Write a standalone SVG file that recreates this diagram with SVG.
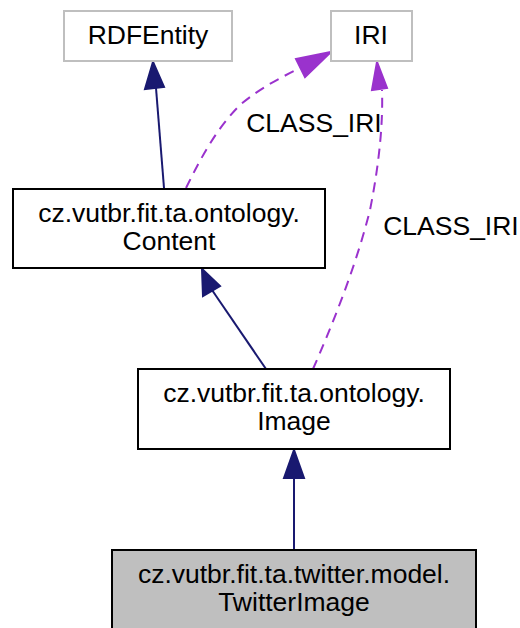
<svg xmlns="http://www.w3.org/2000/svg" width="520" height="628" viewBox="0 0 520 628">
<style>
text{font-family:"Liberation Sans",Arial,sans-serif;font-size:26.5px;fill:#000;text-anchor:middle}
.box{fill:#fff;stroke:#000;stroke-width:2}
.ext{fill:#fff;stroke:#bfbfbf;stroke-width:2}
.cur{fill:#bfbfbf;stroke:#000;stroke-width:2}
.inh{fill:none;stroke:#191970;stroke-width:2}
.use{fill:none;stroke:#9a32cd;stroke-width:2;stroke-dasharray:10,7}
.ah1{fill:#191970;stroke:#191970;stroke-width:2}
.ah2{fill:#9a32cd;stroke:#9a32cd;stroke-width:2}
</style>
<rect width="520" height="628" fill="#fff"/>
<g id="edges">
<path class="inh" d="M164,188 L156,88"/>
<polygon class="ah1" points="145,89 153,62 164,87"/>
<path class="use" d="M186,188 C200,160 215,130 240,105 C260,88 280,78 300,68"/>
<polygon class="ah2" points="296,59 331,52 305,77"/>
<path class="use" d="M313,369 C330,330 355,270 370,210 C380,160 383,120 382,90"/>
<polygon class="ah2" points="372,90 377,62 387,88"/>
<path class="inh" d="M266,369 L212,290"/>
<polygon class="ah1" points="203,296 202,269 220,286"/>
<path class="inh" d="M294,550 L294,478"/>
<polygon class="ah1" points="284,478 294,450 304,478"/>
<text x="314" y="132">CLASS_IRI</text>
<text x="451" y="235">CLASS_IRI</text>
</g>
<g id="RDFEntity">
<rect class="ext" x="64" y="11" width="168" height="50"/>
<text x="148" y="44">RDFEntity</text>
</g>
<g id="IRI">
<rect class="ext" x="331" y="11" width="81" height="50"/>
<text x="371" y="44">IRI</text>
</g>
<g id="Content">
<rect class="box" x="13" y="189" width="312" height="79"/>
<text x="169" y="222">cz.vutbr.fit.ta.ontology.</text>
<text x="169" y="250">Content</text>
</g>
<g id="Image">
<rect class="box" x="138" y="369" width="312" height="80"/>
<text x="294" y="402">cz.vutbr.fit.ta.ontology.</text>
<text x="294" y="430">Image</text>
</g>
<g id="TwitterImage">
<rect class="cur" x="112" y="550" width="364" height="80"/>
<text x="294" y="583">cz.vutbr.fit.ta.twitter.model.</text>
<text x="294" y="611">TwitterImage</text>
</g>
</svg>
